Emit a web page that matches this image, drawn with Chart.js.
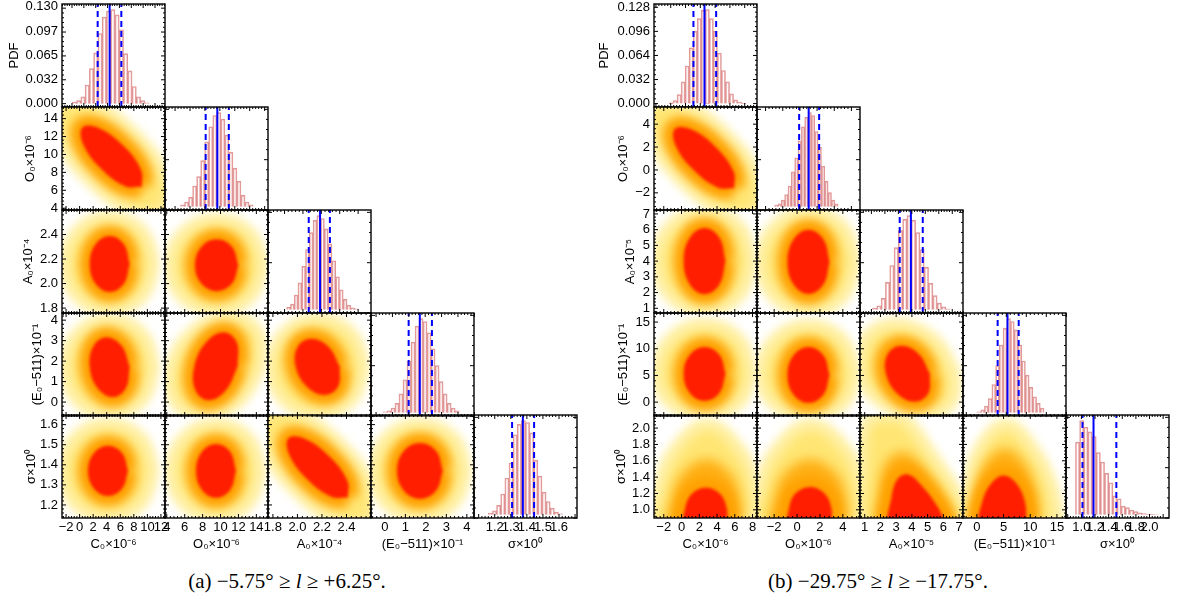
<!DOCTYPE html>
<html>
<head>
<meta charset="utf-8">
<script src="https://cdn.jsdelivr.net/npm/chart.js@4.4.1/dist/chart.umd.min.js"></script>
<style>
body { margin: 0; background: #fff; width: 1178px; height: 602px; position: relative; overflow: hidden; }
canvas { position: absolute; }
.cap { position: absolute; top: 569px; font-family: 'Liberation Serif', 'Times New Roman', serif; font-size: 21px; white-space: nowrap; transform: translateX(-50%); color: #000; }
</style>
</head>
<body>
<div class="cap" style="left:287px">(a) −5.75° ≥ <i>l</i> ≥ +6.25°.</div>
<div class="cap" style="left:878px">(b) −29.75° ≥ <i>l</i> ≥ −17.75°.</div>
<script>
const varKeys = ['C', 'O', 'A', 'E', 'S']

// axis limits
const rangesA = { C: [-2.6, 12.6], O: [3.8, 15.3], A: [1.76, 2.6], E: [-0.68, 4.35], S: [1.135, 1.648] }
const rangesB = { C: [-3.1, 8.5], O: [-3.5, 5.5], A: [0.7, 7.25], E: [-2.6, 16.7], S: [0.9, 2.16] }
const pdfRangeA = [-0.0045, 0.1336]
const pdfRangeB = [-0.0045, 0.1324]
const relRange = [-0.035, 1.06]

// tick labels
const tickLabelsA = {
    C: ['−2', '0', '2', '4', '6', '8', '10', '12'],
    O: ['4', '6', '8', '10', '12', '14'],
    A: ['1.8', '2.0', '2.2', '2.4'],
    E: ['0', '1', '2', '3', '4'],
    S: ['1.2', '1.3', '1.4', '1.5', '1.6']
}
const tickLabelsB = {
    C: ['−2', '0', '2', '4', '6', '8'],
    O: ['−2', '0', '2', '4'],
    A: ['1', '2', '3', '4', '5', '6', '7'],
    E: ['0', '5', '10', '15'],
    S: ['1.0', '1.2', '1.4', '1.6', '1.8', '2.0']
}
const pdfLabelsA = ['0.000', '0.032', '0.065', '0.097', '0.130']
const pdfLabelsB = ['0.000', '0.032', '0.064', '0.096', '0.128']

const titlesA = { C: 'C₀×10⁻⁶', O: 'O₀×10⁻⁶', A: 'A₀×10⁻⁴', E: '(E₀−511)×10⁻¹', S: 'σ×10⁰' }
const titlesB = { C: 'C₀×10⁻⁶', O: 'O₀×10⁻⁶', A: 'A₀×10⁻⁵', E: '(E₀−511)×10⁻¹', S: 'σ×10⁰' }

// histograms: bin heights (first panel in PDF units, the rest relative to the peak)
const histCa = [0.002, 0.004, 0.009, 0.025, 0.047, 0.068, 0.094, 0.116, 0.124, 0.126, 0.119, 0.099, 0.067, 0.044, 0.023, 0.009, 0.004, 0.001]
const histOa = [0.02, 0.05, 0.10, 0.22, 0.32, 0.49, 0.69, 0.85, 0.97, 1.0, 0.93, 0.76, 0.58, 0.41, 0.27, 0.12, 0.05, 0.02]
const histAa = [0.026, 0.06, 0.156, 0.286, 0.46, 0.64, 0.82, 0.95, 1.0, 0.97, 0.86, 0.70, 0.52, 0.35, 0.21, 0.11, 0.05, 0.02, 0.01]
const histEa = [0.01, 0.02, 0.05, 0.10, 0.2, 0.35, 0.55, 0.75, 0.92, 1.0, 0.97, 0.85, 0.68, 0.5, 0.33, 0.2, 0.1, 0.05, 0.02]
const histSa = [0.017, 0.041, 0.10, 0.22, 0.39, 0.55, 0.85, 0.96, 1.0, 0.98, 0.87, 0.58, 0.41, 0.24, 0.14, 0.07, 0.027, 0.01]
const histCb = [0.001, 0.004, 0.012, 0.029, 0.050, 0.074, 0.096, 0.113, 0.124, 0.125, 0.113, 0.096, 0.067, 0.044, 0.029, 0.013, 0.005, 0.002, 0.0005]
const histOb = [0.017, 0.03, 0.07, 0.13, 0.22, 0.37, 0.52, 0.70, 0.85, 0.95, 1.0, 0.97, 0.8, 0.63, 0.43, 0.27, 0.15, 0.07, 0.03]
const histAb = [0.016, 0.04, 0.12, 0.29, 0.47, 0.66, 0.84, 0.96, 1.0, 0.95, 0.82, 0.64, 0.45, 0.28, 0.15, 0.07, 0.03, 0.01]
const histEb = [0.01, 0.03, 0.07, 0.15, 0.3, 0.5, 0.72, 0.9, 1.0, 0.97, 0.88, 0.72, 0.55, 0.4, 0.27, 0.17, 0.1, 0.05]
const histSb = [0.77, 1.0, 0.93, 0.88, 0.83, 0.66, 0.56, 0.44, 0.34, 0.2, 0.17, 0.09, 0.075, 0.05, 0.033, 0.02, 0.013, 0.007, 0.003, 0.001]

// [first bin edge, bin width]
const binsA = { C: [-1.95, 0.72], O: [4.73, 0.54], A: [1.823, 0.041], E: [-0.58, 0.245], S: [1.16, 0.0257] }
const binsB = { C: [-2.23, 0.545], O: [-2.95, 0.39], A: [1.08, 0.32], E: [-2.32, 0.93], S: [0.913, 0.061] }

// [lower (dashed), best (solid), upper (dashed)]
const intervalsA = { C: [2.33, 4.35, 6.32], O: [8.1, 9.66, 11.2], A: [2.063, 2.186, 2.293], E: [0.99, 1.67, 2.41], S: [1.308, 1.375, 1.445] }
const intervalsB = { C: [1.07, 2.56, 4.14], O: [-0.09, 1.02, 2.24], A: [3.1, 3.93, 4.81], E: [2.84, 5.3, 8.1], S: [1.016, 1.178, 1.513] }

// scatter clouds, outlines: dense red core, orange band, yellow fringe
const coreCOa = [[9.18, 6.38], [9.08, 8.25], [6.47, 10.96], [2.88, 12.94], [0.42, 13.02], [0.52, 11.15], [3.13, 8.44], [6.72, 6.46]]
const outerCOa = [[12.95, 3.53], [12.92, 7.13], [8.14, 12.22], [1.41, 15.84], [-3.35, 15.87], [-3.32, 12.27], [1.46, 7.18], [8.19, 3.56]]
const coreCAa = [[7.39, 2.16], [6.53, 2.321], [4.44, 2.388], [2.35, 2.321], [1.49, 2.16], [2.35, 1.999], [4.44, 1.932], [6.53, 1.999]]
const outerCAa = [[11.08, 2.16], [9.13, 2.432], [4.44, 2.544], [-0.25, 2.432], [-2.2, 2.16], [-0.25, 1.888], [4.44, 1.776], [9.13, 1.888]]
const coreOAa = [[11.99, 2.15], [11.28, 2.3], [9.57, 2.362], [7.86, 2.3], [7.15, 2.15], [7.86, 2.0], [9.57, 1.938], [11.28, 2.0]]
const outerOAa = [[14.82, 2.15], [13.28, 2.415], [9.57, 2.525], [5.86, 2.415], [4.32, 2.15], [5.86, 1.885], [9.57, 1.775], [13.28, 1.885]]
const coreCEa = [[7.39, 1.71], [6.23, 2.74], [3.94, 3.17], [2.05, 2.74], [1.49, 1.71], [2.65, 0.68], [4.94, 0.25], [6.83, 0.68]]
const outerCEa = [[11.08, 1.71], [9.13, 3.37], [4.44, 4.05], [-0.25, 3.37], [-2.2, 1.71], [-0.25, 0.05], [4.44, -0.63], [9.13, 0.05]]
const coreOEa = [[11.92, 1.75], [11.81, 2.92], [10.35, 3.41], [8.39, 2.92], [7.08, 1.75], [7.19, 0.58], [8.65, 0.09], [10.61, 0.58]]
const outerOEa = [[14.53, 1.75], [14.11, 3.48], [11.0, 4.19], [7.01, 3.48], [4.47, 1.75], [4.89, 0.02], [8.0, -0.69], [11.99, 0.02]]
const coreAEa = [[2.346, 1.72], [2.255, 2.69], [2.112, 3.09], [2.001, 2.69], [1.986, 1.72], [2.077, 0.75], [2.22, 0.35], [2.331, 0.75]]
const outerAEa = [[2.55, 1.72], [2.437, 3.38], [2.166, 4.06], [1.895, 3.38], [1.782, 1.72], [1.895, 0.06], [2.166, -0.62], [2.437, 0.06]]
const coreCSa = [[7.14, 1.37], [6.28, 1.458], [4.19, 1.495], [2.1, 1.458], [1.24, 1.37], [2.1, 1.282], [4.19, 1.245], [6.28, 1.282]]
const outerCSa = [[10.98, 1.37], [8.99, 1.536], [4.19, 1.604], [-0.61, 1.536], [-2.6, 1.37], [-0.61, 1.204], [4.19, 1.136], [8.99, 1.204]]
const coreOSa = [[11.73, 1.37], [11.08, 1.465], [9.5, 1.504], [7.92, 1.465], [7.27, 1.37], [7.92, 1.275], [9.5, 1.236], [11.08, 1.275]]
const outerOSa = [[14.53, 1.37], [13.05, 1.536], [9.5, 1.604], [5.95, 1.536], [4.47, 1.37], [5.95, 1.204], [9.5, 1.136], [13.05, 1.204]]
const coreASa = [[2.412, 1.237], [2.407, 1.32], [2.262, 1.441], [2.064, 1.529], [1.928, 1.533], [1.933, 1.45], [2.078, 1.329], [2.276, 1.241]]
const outerASa = [[2.62, 1.11], [2.619, 1.27], [2.354, 1.498], [1.982, 1.659], [1.72, 1.66], [1.721, 1.5], [1.986, 1.272], [2.358, 1.111]]
const coreESa = [[2.83, 1.37], [2.5, 1.469], [1.71, 1.509], [0.92, 1.469], [0.59, 1.37], [0.92, 1.271], [1.71, 1.231], [2.5, 1.271]]
const outerESa = [[4.0, 1.37], [3.33, 1.536], [1.71, 1.604], [0.09, 1.536], [-0.58, 1.37], [0.09, 1.204], [1.71, 1.136], [3.33, 1.204]]

const coreCOb = [[5.94, -1.6], [5.87, -0.14], [3.87, 1.99], [1.14, 3.53], [-0.74, 3.6], [-0.67, 2.14], [1.33, 0.01], [4.06, -1.53]]
const outerCOb = [[8.82, -3.82], [8.79, -1.01], [5.14, 2.98], [0.01, 5.81], [-3.62, 5.82], [-3.59, 3.01], [0.06, -0.98], [5.19, -3.81]]
const coreCAb = [[4.96, 4.0], [4.27, 5.48], [2.6, 6.1], [0.93, 5.48], [0.24, 4.0], [0.93, 2.52], [2.6, 1.9], [4.27, 2.52]]
const outerCAb = [[8.0, 4.0], [6.42, 6.25], [2.6, 7.18], [-1.22, 6.25], [-2.8, 4.0], [-1.22, 1.75], [2.6, 0.82], [6.42, 1.75]]
const coreOAb = [[2.84, 3.95], [2.3, 5.39], [1.0, 5.99], [-0.3, 5.39], [-0.84, 3.95], [-0.3, 2.51], [1.0, 1.91], [2.3, 2.51]]
const outerOAb = [[5.2, 3.95], [3.97, 6.2], [1.0, 7.13], [-1.97, 6.2], [-3.2, 3.95], [-1.97, 1.7], [1.0, 0.77], [3.97, 1.7]]
const coreCEb = [[4.96, 5.3], [4.27, 8.87], [2.6, 10.35], [0.93, 8.87], [0.24, 5.3], [0.93, 1.73], [2.6, 0.25], [4.27, 1.73]]
const outerCEb = [[8.0, 5.3], [6.42, 11.91], [2.6, 14.65], [-1.22, 11.91], [-2.8, 5.3], [-1.22, -0.25], [2.6, -2.55], [6.42, -0.25]]
const coreOEb = [[2.84, 5.1], [2.3, 8.8], [1.0, 10.34], [-0.3, 8.8], [-0.84, 5.1], [-0.3, 1.4], [1.0, -0.14], [2.3, 1.4]]
const outerOEb = [[5.2, 5.1], [3.97, 11.71], [1.0, 14.45], [-1.97, 11.71], [-3.2, 5.1], [-1.97, -0.45], [1.0, -2.75], [3.97, -0.45]]
const coreAEb = [[5.15, 5.3], [4.44, 9.0], [3.33, 10.54], [2.46, 9.0], [2.35, 5.3], [3.06, 1.6], [4.17, 0.06], [5.04, 1.6]]
const outerAEb = [[6.8, 5.3], [5.34, 11.91], [2.95, 14.65], [1.02, 11.91], [0.7, 5.3], [2.16, -0.25], [4.55, -2.55], [6.48, -0.25]]
const coreCSb = [[5.1, 0.82], [5.1, 1.02], [4.3, 1.2], [2.75, 1.27], [1.2, 1.2], [0.4, 1.02], [0.4, 0.82], [2.75, 0.8]]
const midCSb = [[6.8, 0.82], [6.6, 1.15], [5.5, 1.45], [2.8, 1.62], [0.1, 1.45], [-1.1, 1.15], [-1.3, 0.82], [2.75, 0.8]]
const outerCSb = [[8.6, 0.82], [8.3, 1.25], [6.8, 1.7], [2.9, 2.05], [-1.0, 1.7], [-2.6, 1.25], [-3.2, 0.82], [2.75, 0.8]]
const coreOSb = [[3.0, 0.82], [3.0, 1.02], [2.4, 1.2], [1.15, 1.28], [-0.15, 1.2], [-0.7, 1.02], [-0.7, 0.82], [1.15, 0.8]]
const midOSb = [[4.5, 0.82], [4.3, 1.15], [3.4, 1.45], [1.15, 1.62], [-1.1, 1.45], [-2.0, 1.15], [-2.2, 0.82], [1.15, 0.8]]
const outerOSb = [[5.8, 0.82], [5.6, 1.25], [4.5, 1.7], [1.2, 2.05], [-2.0, 1.7], [-3.3, 1.25], [-3.8, 0.82], [1.15, 0.8]]
const coreASb = [[6.2, 0.82], [5.6, 1.05], [4.6, 1.3], [3.8, 1.43], [3.1, 1.38], [2.7, 1.15], [2.6, 0.82], [4.4, 0.8]]
const midASb = [[7.0, 0.82], [6.3, 1.1], [5.0, 1.45], [3.6, 1.7], [2.4, 1.6], [1.9, 1.2], [1.9, 0.82], [4.4, 0.8]]
const outerASb = [[7.6, 0.82], [7.0, 1.15], [5.5, 1.6], [3.2, 2.15], [1.2, 2.1], [0.8, 1.5], [0.9, 0.82], [4.4, 0.8]]
const coreESb = [[9.3, 0.82], [9.0, 1.1], [7.3, 1.33], [5.0, 1.42], [2.8, 1.33], [1.0, 1.1], [0.6, 0.82], [5.0, 0.8]]
const midESb = [[11.8, 0.82], [11.0, 1.25], [8.6, 1.6], [5.2, 1.75], [1.8, 1.6], [-0.3, 1.25], [-0.8, 0.82], [5.0, 0.8]]
const outerESb = [[15.5, 0.82], [14.0, 1.3], [10.5, 1.75], [5.6, 2.05], [1.0, 1.8], [-1.8, 1.3], [-2.6, 0.82], [5.0, 0.8]]

const plotA = {
    cols: [62, 165, 268, 371, 474],
    ranges: rangesA, ticks: tickLabelsA, titles: titlesA,
    pdfRange: pdfRangeA, pdfTicks: pdfLabelsA,
    hists: { C: histCa, O: histOa, A: histAa, E: histEa, S: histSa },
    bins: binsA, intervals: intervalsA,
    clouds: {
        CO: { core: coreCOa, outer: outerCOa }, CA: { core: coreCAa, outer: outerCAa },
        OA: { core: coreOAa, outer: outerOAa }, CE: { core: coreCEa, outer: outerCEa },
        OE: { core: coreOEa, outer: outerOEa }, AE: { core: coreAEa, outer: outerAEa },
        CS: { core: coreCSa, outer: outerCSa }, OS: { core: coreOSa, outer: outerOSa },
        AS: { core: coreASa, outer: outerASa }, ES: { core: coreESa, outer: outerESa }
    },
    titlePad: [7, 23, 21, 30, 24]
}
const plotB = {
    cols: [654, 757, 860, 963, 1066],
    ranges: rangesB, ticks: tickLabelsB, titles: titlesB,
    pdfRange: pdfRangeB, pdfTicks: pdfLabelsB,
    hists: { C: histCb, O: histOb, A: histAb, E: histEb, S: histSb },
    bins: binsB, intervals: intervalsB,
    clouds: {
        CO: { core: coreCOb, outer: outerCOb }, CA: { core: coreCAb, outer: outerCAb },
        OA: { core: coreOAb, outer: outerOAb }, CE: { core: coreCEb, outer: outerCEb },
        OE: { core: coreOEb, outer: outerOEb }, AE: { core: coreAEb, outer: outerAEb },
        CS: { core: coreCSb, mid: midCSb, outer: outerCSb }, OS: { core: coreOSb, mid: midOSb, outer: outerOSb },
        AS: { core: coreASb, mid: midASb, outer: outerASb }, ES: { core: coreESb, mid: midESb, outer: outerESb }
    },
    titlePad: [5, 24, 31, 24, 22]
}

const rowTops = [4, 107, 210, 313, 415]
const panelSize = 103

Chart.defaults.font.family = "'Liberation Sans', Arial, Helvetica, sans-serif"
Chart.defaults.font.size = 13
Chart.defaults.color = '#000'

// blur the cloud layers so they look like point densities
const cloudBlur = {
    id: 'cloudBlur',
    beforeDatasetsDraw(chart) { setBlur(chart, chart.data.datasets.length - 1) },
    afterDatasetDraw(chart, args) { setBlur(chart, args.index - 1) },
    afterDatasetsDraw(chart) { chart.ctx.filter = 'none' }
}

function setBlur(chart, i) {
    let ds = chart.data.datasets[i]
    chart.ctx.filter = ds && ds.blur ? 'blur(' + ds.blur + 'px)' : 'none'
}

// box frame with inward major and minor ticks on all four sides
const frameTicks = {
    id: 'frameTicks',
    afterDraw(chart) {
        let ctx = chart.ctx
        let a = chart.chartArea
        ctx.save()
        ctx.strokeStyle = '#000'
        ctx.lineWidth = 1
        ctx.beginPath()
        markTicks(chart.scales.x, a.left, a.right, (p, len) => {
            ctx.moveTo(p, a.bottom); ctx.lineTo(p, a.bottom - len)
            ctx.moveTo(p, a.top); ctx.lineTo(p, a.top + len)
        })
        markTicks(chart.scales.y, a.top, a.bottom, (p, len) => {
            ctx.moveTo(a.left, p); ctx.lineTo(a.left + len, p)
            ctx.moveTo(a.right, p); ctx.lineTo(a.right - len, p)
        })
        ctx.stroke()
        ctx.lineWidth = 1.4
        ctx.strokeRect(a.left, a.top, a.right - a.left, a.bottom - a.top)
        ctx.restore()
    }
}

function markTicks(scale, lo, hi, draw) {
    let vals = scale.ticks.map(t => t.value)
    if (vals.length < 2) return
    let step = (vals[1] - vals[0]) / 5
    for (let k = -5; k <= (vals.length - 1) * 5 + 5; k++) {
        let p = scale.getPixelForValue(vals[0] + k * step)
        if (p < lo - 0.5 || p > hi + 0.5) continue
        draw(p, k % 5 === 0 ? 4 : 2)
    }
}

function toNumber(s) {
    return Number(s.replace('−', '-'))
}

function makeAxis(range, labels, title, show, horizontal, titlePad) {
    let axis = {
        type: 'linear',
        min: range[0],
        max: range[1],
        grid: { display: false, drawTicks: false },
        border: { display: false },
        ticks: {
            display: show, autoSkip: false, maxRotation: 0, minRotation: 0,
            padding: horizontal ? 2 : 4,
            callback: (v, i) => labels ? labels[i] : ''
        },
        title: {
            display: show, text: title,
            padding: horizontal ? { top: 0, bottom: 11 } : { top: titlePad, bottom: 0 }
        },
        afterFit: s => {
            if (horizontal) s.height = show ? 45 : 0
            else s.width = show ? 62 : 0
            s.paddingLeft = 0; s.paddingRight = 0; s.paddingTop = 0; s.paddingBottom = 0
        }
    }
    if (labels) {
        let values = labels.map(toNumber)
        axis.afterBuildTicks = s => { s.ticks = values.map(v => ({ value: v })) }
    }
    return axis
}

function histDatasets(hist, bins, interval, yRange) {
    let lines = interval.map((v, i) => ({
        type: 'line',
        data: [{ x: v, y: yRange[0] }, { x: v, y: yRange[1] }],
        borderColor: '#0000ff',
        borderWidth: 2,
        borderDash: i === 1 ? [] : [6, 4],
        pointRadius: 0,
        fill: false
    }))
    let bars = {
        type: 'bar',
        data: hist.map((h, i) => ({ x: bins[0] + (i + 0.5) * bins[1], y: h })),
        backgroundColor: 'rgba(255, 240, 240, 0.2)',
        borderColor: 'rgba(215, 115, 115, 0.75)',
        borderWidth: 1,
        barPercentage: 1,
        categoryPercentage: 1
    }
    return lines.concat([bars])
}

function outline(points, fillColor, strokeColor, width, blur) {
    return {
        type: 'line',
        data: points.concat([points[0]]).map(p => ({ x: p[0], y: p[1] })),
        fill: fillColor ? 'shape' : false,
        backgroundColor: fillColor || 'transparent',
        borderColor: strokeColor || 'transparent',
        borderWidth: width,
        pointRadius: 0,
        tension: 0.4,
        blur: blur
    }
}

function cloudDatasets(cloud) {
    let sets = [
        outline(cloud.core, 'rgb(255, 30, 0)', null, 0, 1.5),
        outline(cloud.core, null, 'rgb(255, 160, 0)', 20, 5)
    ]
    if (cloud.mid) sets.push(outline(cloud.mid, 'rgb(255, 175, 20)', null, 0, 6))
    sets.push(outline(cloud.outer, null, 'rgba(255, 236, 140, 0.6)', 10, 5))
    sets.push(outline(cloud.outer, 'rgba(255, 222, 70, 0.75)', null, 0, 7))
    return sets
}

function addPanel(plot, r, c) {
    let cv = document.createElement('canvas')
    let padLeft = c === 0 ? 62 : 10
    let padBottom = r === 4 ? 45 : 10
    cv.width = padLeft + panelSize + 14
    cv.height = 10 + panelSize + padBottom
    cv.style.left = (plot.cols[c] - padLeft) + 'px'
    cv.style.top = (rowTops[r] - 10) + 'px'
    document.body.appendChild(cv)

    let xv = varKeys[c]
    let yv = varKeys[r]
    let datasets, yRange, yLabels, yTitle
    if (r === c) {
        yRange = r === 0 ? plot.pdfRange : relRange
        yLabels = r === 0 ? plot.pdfTicks : null
        yTitle = 'PDF'
        datasets = histDatasets(plot.hists[xv], plot.bins[xv], plot.intervals[xv], yRange)
    } else {
        yRange = plot.ranges[yv]
        yLabels = plot.ticks[yv]
        yTitle = plot.titles[yv]
        datasets = cloudDatasets(plot.clouds[xv + yv])
    }

    new Chart(cv, {
        type: 'line',
        data: { datasets: datasets },
        options: {
            responsive: false,
            animation: false,
            events: [],
            layout: { padding: { left: c === 0 ? 0 : 10, right: 14, top: 10, bottom: r === 4 ? 0 : 10 } },
            plugins: { legend: { display: false }, tooltip: { enabled: false } },
            scales: {
                x: makeAxis(plot.ranges[xv], plot.ticks[xv], plot.titles[xv], r === 4, true, 0),
                y: makeAxis(yRange, yLabels, yTitle, c === 0, false, plot.titlePad[r])
            }
        },
        plugins: [cloudBlur, frameTicks]
    })
}

[plotA, plotB].forEach(plot => {
    for (let r = 0; r < 5; r++) {
        for (let c = 0; c <= r; c++) addPanel(plot, r, c)
    }
})
</script>
</body>
</html>
